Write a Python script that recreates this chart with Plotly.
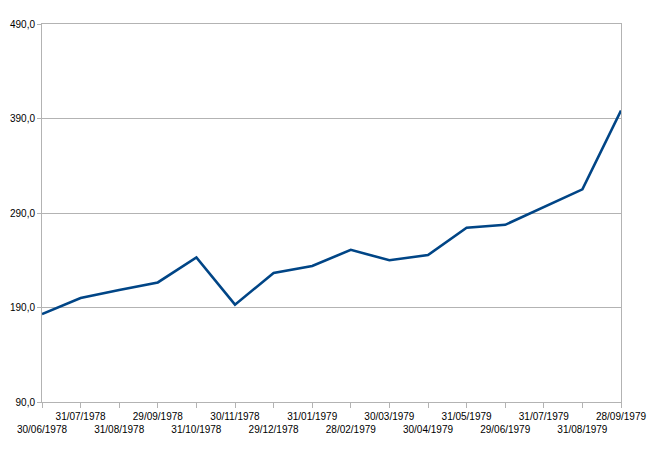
import plotly.graph_objects as go

dates = ["30/06/1978", "31/07/1978", "31/08/1978", "29/09/1978", "31/10/1978",
         "30/11/1978", "29/12/1978", "31/01/1979", "28/02/1979", "30/03/1979",
         "30/04/1979", "31/05/1979", "29/06/1979", "31/07/1979", "31/08/1979",
         "28/09/1979"]
values = [183, 200, 208.5, 216.5, 243, 193, 226.5, 234, 251, 240,
          245.5, 274.5, 277.5, 296, 315, 398.5]
y_ticks = [90, 190, 290, 390, 490]

# staggered labels: even index on second row
tick_text = [("<br>" + d) if i % 2 == 0 else d for i, d in enumerate(dates)]

fig = go.Figure()
fig.add_trace(go.Scatter(
    x=list(range(len(dates))), y=values, mode="lines",
    line=dict(color="#004586", width=2.6),
    hoverinfo="skip", showlegend=False,
))

fig.update_layout(
    width=652, height=446,
    margin=dict(l=34, r=39, t=16, b=52),
    paper_bgcolor="white", plot_bgcolor="white",
    separators=",.",
    font=dict(family="Liberation Sans, Arial, sans-serif", size=10, color="black"),
    xaxis=dict(
        range=[0, len(dates) - 1], automargin=False,
        tickmode="array", tickvals=list(range(len(dates))), ticktext=tick_text,
        showgrid=False, zeroline=False,
        showline=True, linecolor="#b3b3b3", linewidth=1, mirror=True,
        ticks="outside", ticklen=5, tickcolor="#b3b3b3",
        tickangle=0,
    ),
    yaxis=dict(
        range=[90, 490], automargin=False,
        tickmode="array", tickvals=y_ticks, tickformat=".1f",
        showgrid=True, gridcolor="#b3b3b3", gridwidth=1, zeroline=False,
        showline=True, linecolor="#b3b3b3", linewidth=1, mirror=True,
        ticks="outside", ticklen=4, tickcolor="#b3b3b3",
    ),
)

fig.write_html("out.html")
